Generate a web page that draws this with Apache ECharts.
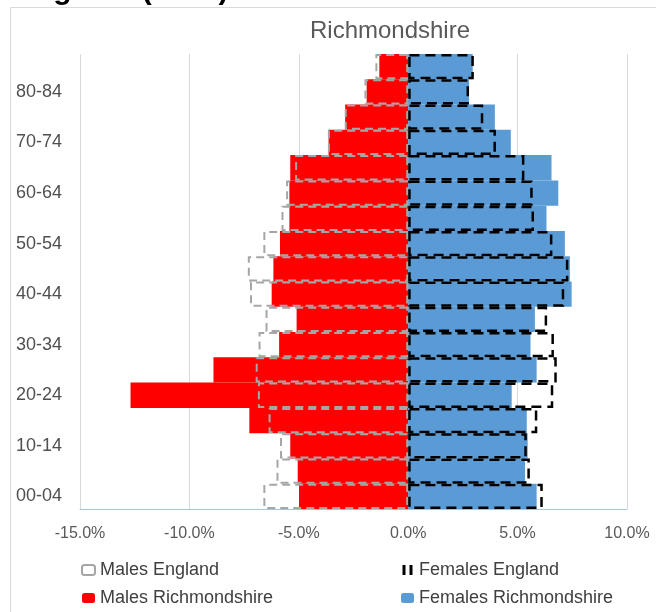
<!DOCTYPE html>
<html>
<head>
<meta charset="utf-8">
<script src="https://cdn.jsdelivr.net/npm/echarts@6/dist/echarts.min.js"></script>
<style>
html,body{margin:0;padding:0;background:#fff;}
#chart{width:656px;height:612px;}
</style>
</head>
<body>
<div id="chart"></div>
<script>
const categories = ['00-04','05-09','10-14','15-19','20-24','25-29','30-34','35-39','40-44','45-49','50-54','55-59','60-64','65-69','70-74','75-79','80-84','85+'];
const malesRichmondshire = [-4.99,-5.05,-5.39,-7.26,-12.69,-8.90,-5.90,-5.10,-6.24,-6.16,-5.86,-5.43,-5.43,-5.39,-3.64,-2.88,-1.90,-1.32];
const femalesRichmondshire = [5.87,5.34,5.46,5.42,4.73,5.87,5.59,5.79,7.47,7.39,7.16,6.32,6.86,6.55,4.69,3.96,2.78,2.95];
const malesEngland = [-6.62,-6.02,-5.86,-6.38,-6.87,-6.97,-6.84,-6.52,-7.23,-7.33,-6.62,-5.79,-5.58,-5.17,-3.67,-2.90,-2.00,-1.50];
const femalesEngland = [6.15,5.56,5.42,5.90,6.63,6.79,6.66,6.35,7.13,7.32,6.59,5.75,5.69,5.31,4.01,3.43,2.78,3.00];
const xTicks = {min: -15, max: 10, interval: 5};

const FONT = 'Liberation Sans';
const chart = echarts.init(document.getElementById('chart'), null, {renderer: 'canvas'});

const barCommon = {type: 'bar', barGap: '-100%', barCategoryGap: '0%'};

chart.setOption({
  backgroundColor: '#ffffff',
  animation: false,
  textStyle: {fontFamily: FONT},
  graphic: [
    {type: 'rect', shape: {x: 10.5, y: 7.5, width: 700, height: 700}, style: {fill: 'none', stroke: '#d9d9d9', lineWidth: 1}, silent: true, z: -10},
    {type: 'text', x: 15, y: 6, style: {text: 'England (2014)', font: 'bold 30px "Liberation Sans"', fill: '#000', textVerticalAlign: 'bottom'}, silent: true},
    {type: 'text', x: 390, y: 31, style: {text: 'Richmondshire', font: '24px "Liberation Sans"', fill: '#595959', textAlign: 'center', textVerticalAlign: 'middle'}, silent: true}
  ],
  grid: {left: 80, right: 29, top: 54, bottom: 103, containLabel: false},
  xAxis: {
    type: 'value', min: xTicks.min, max: xTicks.max, interval: xTicks.interval,
    axisLine: {show: true, onZero: false, lineStyle: {color: '#a9c3d8', width: 1}},
    axisTick: {show: false},
    axisLabel: {formatter: v => v.toFixed(1) + '%', fontSize: 16, color: '#595959', margin: 17, fontFamily: FONT},
    splitLine: {show: true, lineStyle: {color: '#d9d9d9', width: 1}}
  },
  yAxis: {
    type: 'category', data: categories,
    axisLine: {show: false}, axisTick: {show: false},
    axisLabel: {interval: 1, fontSize: 18, color: '#505050', margin: 18, fontFamily: FONT},
    splitLine: {show: false}
  },
  legend: [
    {orient: 'vertical', left: 76, top: 556, itemWidth: 13, itemHeight: 10, itemGap: 10,
     data: [
       {name: 'Males England', itemStyle: {color: '#ffffff', borderColor: '#a6a6a6', borderWidth: 2, borderType: 'solid'}},
       {name: 'Males Richmondshire'}
     ],
     textStyle: {fontSize: 18, color: '#404040', fontFamily: FONT}},
    {orient: 'vertical', left: 396, top: 556, itemWidth: 13, itemHeight: 10, itemGap: 10,
     data: [
       {name: 'Females England', icon: 'path://M0,0h3v10h-3z M7,0h3v10h-3z', itemStyle: {color: '#000000', borderWidth: 0}},
       {name: 'Females Richmondshire'}
     ],
     textStyle: {fontSize: 18, color: '#404040', fontFamily: FONT}}
  ],
  series: [
    Object.assign({}, barCommon, {name: 'Males Richmondshire', data: malesRichmondshire, itemStyle: {color: '#ff0000'}}),
    Object.assign({}, barCommon, {name: 'Females Richmondshire', data: femalesRichmondshire, itemStyle: {color: '#5b9bd5'}}),
    Object.assign({}, barCommon, {name: 'Males England', data: malesEngland,
      itemStyle: {color: 'rgba(255,255,255,0)', borderColor: '#a6a6a6', borderWidth: 2, borderType: [8, 5]}}),
    Object.assign({}, barCommon, {name: 'Females England', data: femalesEngland,
      itemStyle: {color: 'rgba(255,255,255,0)', borderColor: '#000000', borderWidth: 2.5, borderType: [10, 6]}})
  ]
});
</script>
</body>
</html>
